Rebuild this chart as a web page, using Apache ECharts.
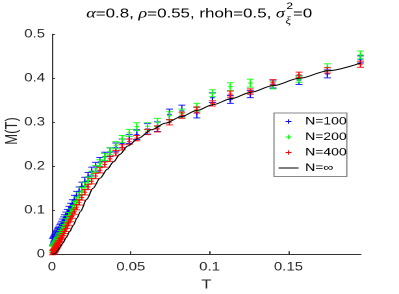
<!DOCTYPE html>
<html>
<head>
<meta charset="utf-8">
<script src="https://cdn.jsdelivr.net/npm/echarts@6/dist/echarts.min.js"></script>
<style>
html,body{margin:0;padding:0;background:#fff;overflow:hidden;}
#wrap{width:399px;height:294px;overflow:hidden;}
#chart{width:307px;height:294px;transform:scaleX(1.2997);transform-origin:0 0;}
</style>
</head>
<body>
<div id="wrap"><div id="chart"></div></div>
<script>
// ---- data ----
const T = [0.0004,0.0007,0.0010,0.0013,0.0016,0.0019,0.0022,0.0025,0.0028,0.0031,
  0.0034,0.0037,0.0041,0.0045,0.0050,0.0055,0.0060,0.0066,0.0073,0.0080,
  0.0088,0.0097,0.0107,0.0118,0.0129,0.0142,0.0156,0.0172,0.0189,0.0208,
  0.0229,0.0252,0.0277,0.0304,0.0335,0.0368,0.0405,0.0445,0.0490,0.0538,
  0.0606,0.0669,0.0745,0.0824,0.0919,0.1018,0.1131,0.1258,0.1402,0.1567,0.1747,0.1957];
const blueM = [0.028,0.030,0.032,0.034,0.036,0.038,0.040,0.042,0.044,0.046,
  0.048,0.050,0.052,0.055,0.059,0.062,0.066,0.071,0.076,0.081,
  0.087,0.093,0.100,0.107,0.115,0.124,0.133,0.143,0.154,0.165,
  0.176,0.188,0.199,0.210,0.222,0.232,0.243,0.252,0.262,0.272,
  0.285,0.290,0.318,0.326,0.322,0.356,0.352,0.364,0.387,0.396,0.410,0.443];
const greenM = [0.011,0.013,0.015,0.017,0.019,0.021,0.023,0.025,0.027,0.029,
  0.031,0.034,0.037,0.040,0.043,0.047,0.051,0.056,0.061,0.067,
  0.073,0.080,0.087,0.095,0.103,0.112,0.122,0.133,0.144,0.156,
  0.168,0.181,0.194,0.207,0.221,0.234,0.248,0.262,0.276,0.290,
  0.291,0.300,0.315,0.320,0.334,0.366,0.381,0.389,0.384,0.398,0.425,0.453];
const redM = [0.004,0.005,0.006,0.007,0.009,0.010,0.012,0.014,0.016,0.018,
  0.020,0.022,0.025,0.027,0.031,0.034,0.038,0.042,0.047,0.052,
  0.058,0.065,0.072,0.080,0.088,0.097,0.107,0.118,0.129,0.141,
  0.153,0.166,0.178,0.191,0.204,0.217,0.230,0.243,0.256,0.264,
  0.278,0.285,0.300,0.316,0.328,0.343,0.364,0.370,0.391,0.408,0.418,0.432];
const blueErr = [0.008,0.008,0.008,0.008,0.008,0.008,0.008,0.008,0.008,0.008,
  0.009,0.009,0.009,0.009,0.009,0.009,0.009,0.009,0.009,0.009,
  0.009,0.009,0.009,0.009,0.009,0.010,0.010,0.010,0.010,0.010,
  0.010,0.010,0.010,0.010,0.010,0.010,0.010,0.010,0.010,0.011,
  0.012,0.011,0.012,0.013,0.012,0.011,0.009,0.008,0.009,0.010,0.009,0.008];
const greenErr = [0.007,0.007,0.007,0.007,0.007,0.007,0.007,0.007,0.007,0.007,
  0.007,0.007,0.007,0.007,0.007,0.007,0.007,0.007,0.007,0.007,
  0.008,0.008,0.008,0.008,0.008,0.008,0.008,0.008,0.008,0.008,
  0.008,0.008,0.008,0.008,0.008,0.008,0.008,0.008,0.008,0.009,
  0.008,0.009,0.009,0.010,0.009,0.008,0.009,0.009,0.008,0.007,0.008,0.009];
const redErr = [0.005,0.005,0.005,0.005,0.005,0.005,0.005,0.005,0.005,0.005,
  0.005,0.005,0.005,0.005,0.005,0.005,0.005,0.005,0.005,0.005,
  0.006,0.006,0.006,0.006,0.006,0.006,0.006,0.006,0.006,0.006,
  0.006,0.006,0.006,0.006,0.006,0.006,0.006,0.006,0.006,0.006,
  0.006,0.007,0.006,0.007,0.007,0.006,0.007,0.006,0.006,0.006,0.006,0.007];
const lineT = [0,0.001,0.002,0.0035,0.005,0.007,0.009,0.0113,0.0135,0.0158,0.018,0.022,0.026,0.0305,0.035,
  0.039,0.043,0.048,0.055,0.063,0.072,0.082,0.092,0.102,0.114,0.126,0.140,0.157,0.175,0.196];
const lineM = [0,0.0005,0.002,0.008,0.016,0.026,0.038,0.052,0.066,0.082,0.097,0.125,0.150,0.173,0.193,
  0.210,0.227,0.246,0.264,0.283,0.298,0.313,0.327,0.340,0.354,0.368,0.383,0.400,0.417,0.435];
const xTicks = [0, 0.05, 0.1, 0.15];
const seriesNames = ['N=100', 'N=200', 'N=400', 'N=\u221E'];
const seriesColors = ['#0000ff', '#00ff00', '#ff0000', '#000000'];

// ---- chart ----
const FONT = 'Liberation Sans, Arial, Helvetica, sans-serif';
const SERIF = 'Liberation Serif, Times New Roman, serif';
const chart = echarts.init(document.getElementById('chart'), null, {renderer: 'canvas', devicePixelRatio: 2});

function errRender(color) {
  return function (params, api) {
    const x = api.value(0), y = api.value(1), e = api.value(2);
    const c = api.coord([x, y]);
    const hi = api.coord([x, y + e]);
    const lo = api.coord([x, y - e]);
    const w = 2.7, pw = 1.9, ph = 2.5;
    const st = {stroke: color, lineWidth: 1, opacity: 0.85};
    return {
      type: 'group',
      children: [
        {type: 'line', shape: {x1: c[0], y1: hi[1], x2: c[0], y2: lo[1]}, style: st},
        {type: 'line', shape: {x1: c[0] - w, y1: hi[1], x2: c[0] + w, y2: hi[1]}, style: st},
        {type: 'line', shape: {x1: c[0] - w, y1: lo[1], x2: c[0] + w, y2: lo[1]}, style: st},
        {type: 'line', shape: {x1: c[0] - pw, y1: c[1], x2: c[0] + pw, y2: c[1]}, style: st},
        {type: 'line', shape: {x1: c[0], y1: c[1] - ph, x2: c[0], y2: c[1] + ph}, style: st}
      ]
    };
  };
}
function pack(ms, es) { return T.map((t, i) => [t, ms[i], es[i]]); }
const plus = 'path://M4,0h2v10h-2z M0,4h10v2h-10z';

chart.setOption({
  animation: false,
  backgroundColor: '#fff',
  grid: {left: 40, right: 29.3, top: 34.3, bottom: 39.7, containLabel: false, outerBoundsMode: 'none'},
  xAxis: {
    type: 'value', min: 0, max: 0.196,
    name: 'T', nameLocation: 'middle', nameGap: 22,
    nameTextStyle: {fontFamily: FONT, fontSize: 13, color: '#262626'},
    axisLine: {show: true, lineStyle: {color: '#333', width: 1}},
    axisTick: {show: true, inside: true, length: 3, customValues: xTicks, lineStyle: {color: '#333'}},
    axisLabel: {customValues: xTicks, margin: 7, fontFamily: FONT, fontSize: 11.5, color: '#262626',
      formatter: v => String(+v.toFixed(3))},
    splitLine: {show: false}
  },
  yAxis: {
    type: 'value', min: 0, max: 0.5, interval: 0.1,
    axisLine: {show: true, lineStyle: {color: '#333', width: 1}},
    axisTick: {show: true, inside: true, length: 2.3, lineStyle: {color: '#333'}},
    axisLabel: {margin: 5.4, fontFamily: FONT, fontSize: 11.5, color: '#262626',
      formatter: v => String(+v.toFixed(2))},
    splitLine: {show: false}
  },
  legend: {
    orient: 'vertical', left: 210.8, top: 113,
    padding: [2, 0, 2, 3], itemGap: 2.5, itemWidth: 15.4, itemHeight: 4.5, itemTextGap: 1.6,
    borderColor: '#888', borderWidth: 1, backgroundColor: '#fff',
    textStyle: {fontFamily: FONT, fontSize: 10.8, lineHeight: 13, color: '#000'},
    data: [
      {name: seriesNames[0], icon: plus},
      {name: seriesNames[1], icon: plus},
      {name: seriesNames[2], icon: plus},
      {name: seriesNames[3], itemStyle: {opacity: 0, borderWidth: 0}, lineStyle: {width: 1, color: '#000'}}
    ]
  },
  graphic: [
    {type: 'text', x: 219.2, y: 13.8, style: {
      text: '{g|\u03B1}=0.8, {g|\u03C1}=0.55, rhoh=0.5, {g|\u03C3}',
      fontFamily: FONT, fontSize: 13, fill: '#000', align: 'right', verticalAlign: 'middle',
      rich: {g: {fontFamily: SERIF, fontStyle: 'italic', fontSize: 14, fill: '#000'}}}},
    {type: 'text', x: 220.4, y: 6.3, style: {text: '2', fontFamily: FONT, fontSize: 9, fill: '#000', align: 'left', verticalAlign: 'middle'}},
    {type: 'text', x: 219.6, y: 21.5, style: {text: '\u03BE', fontFamily: SERIF, fontStyle: 'italic', fontSize: 10, fill: '#000', align: 'left', verticalAlign: 'middle'}},
    {type: 'text', x: 225.4, y: 13.8, style: {text: '=0', fontFamily: FONT, fontSize: 13, fill: '#000', align: 'left', verticalAlign: 'middle'}},
    {type: 'text', x: 9.6, y: 131, rotation: Math.PI / 2, style: {text: 'M(T)', fontFamily: FONT, fontSize: 13, fill: '#262626', align: 'center', verticalAlign: 'middle'}}
  ],
  series: [
    {name: seriesNames[0], type: 'custom', clip: false, itemStyle: {color: seriesColors[0]}, renderItem: errRender(seriesColors[0]), data: pack(blueM, blueErr), z: 2},
    {name: seriesNames[1], type: 'custom', clip: false, itemStyle: {color: seriesColors[1]}, renderItem: errRender(seriesColors[1]), data: pack(greenM, greenErr), z: 3},
    {name: seriesNames[2], type: 'custom', clip: false, itemStyle: {color: seriesColors[2]}, renderItem: errRender(seriesColors[2]), data: pack(redM, redErr), z: 4},
    {name: seriesNames[3], type: 'line', symbol: 'none', smooth: 0.3, smoothMonotone: 'x',
      lineStyle: {color: seriesColors[3], width: 1}, itemStyle: {color: seriesColors[3]},
      data: lineT.map((t, i) => [t, lineM[i]]), z: 5}
  ]
});
</script>
</body>
</html>
